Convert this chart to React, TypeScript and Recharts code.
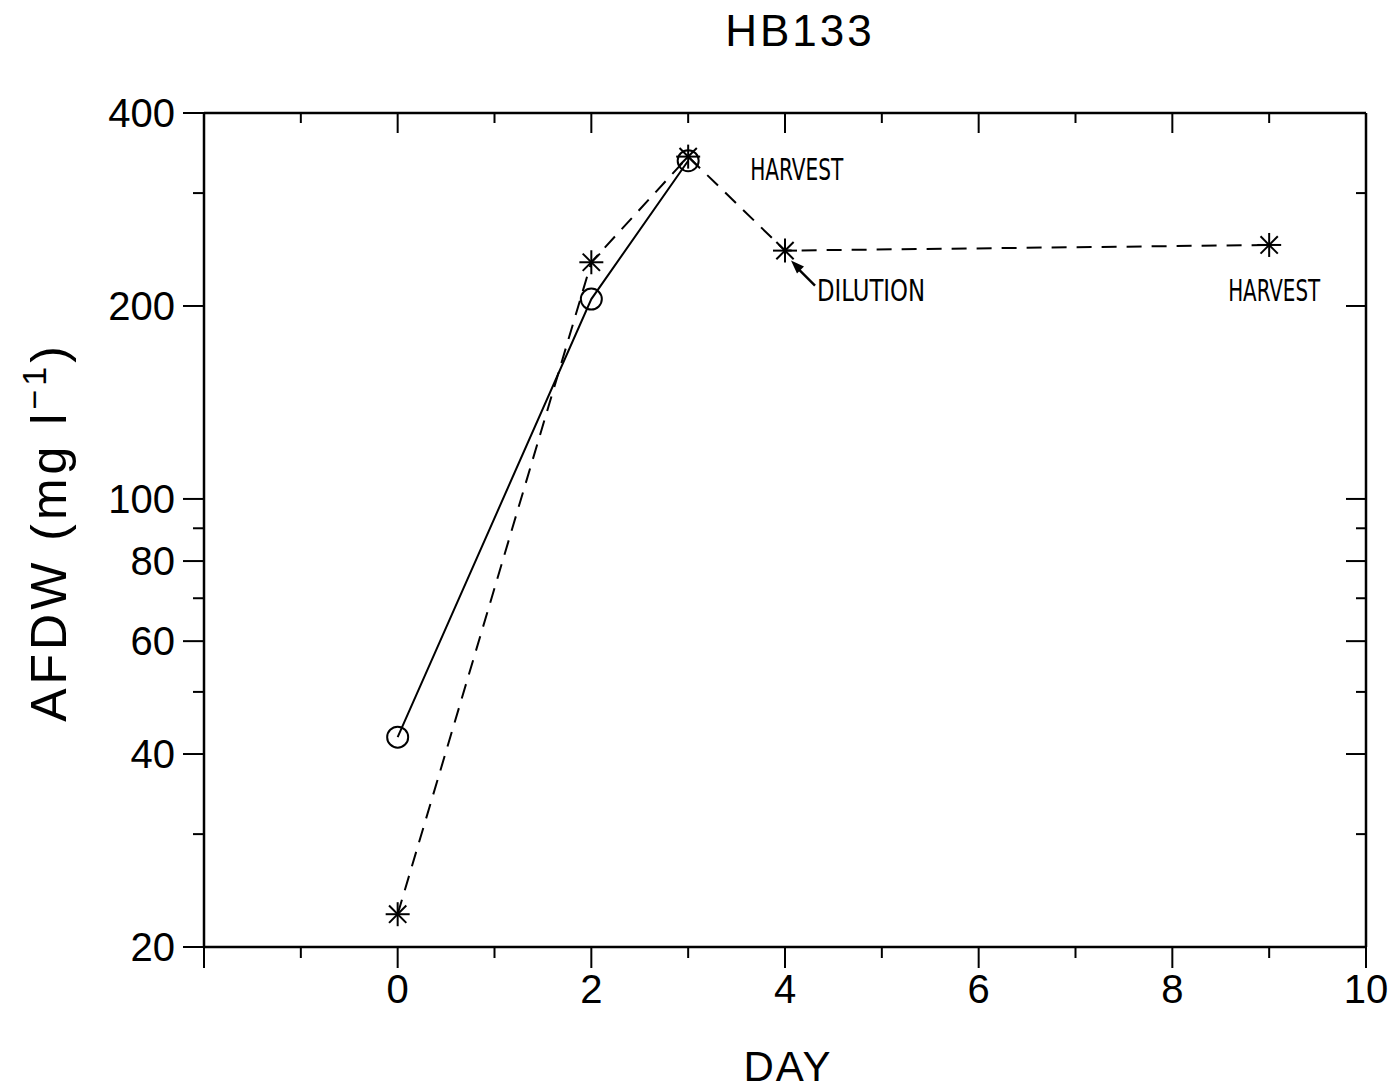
import React from "react";
import { LineChart, Line, XAxis, YAxis, ReferenceDot } from "recharts";

const circleDays = [0, 2, 3];
const circleAfdw = [42.5, 205, 337];
const starDays = [0, 2, 3, 4, 9];
const starAfdw = [22.5, 234, 342, 244, 249];

const xTicks = [-2, -1, 0, 1, 2, 3, 4, 5, 6, 7, 8, 9, 10];
const xLabels = [0, 2, 4, 6, 8, 10];
const xMajor = [-2, 0, 2, 4, 6, 8, 10];
const yTicks = [20, 30, 40, 50, 60, 70, 80, 90, 100, 200, 300, 400];
const yLabels = [20, 40, 60, 80, 100, 200, 400];

const annotations = [
  { day: 3, afdw: 342, text: "HARVEST", dx: 62, dy: 23, len: 93, arrow: false },
  { day: 4, afdw: 244, text: "DILUTION", dx: 32, dy: 50, len: 108, arrow: true },
  { day: 9, afdw: 249, text: "HARVEST", dx: -41, dy: 56, len: 92, arrow: false },
];

const circleData = circleDays.map((d, i) => ({ day: d, afdw: circleAfdw[i] }));
const starData = starDays.map((d, i) => ({ day: d, afdw: starAfdw[i] }));

const FONT = "'Liberation Sans', Arial, sans-serif";
const NARROW = "'Liberation Sans Narrow', 'DejaVu Sans Condensed', 'Liberation Sans', sans-serif";

const BottomTick = (p: any) => {
  const v = p.payload.value;
  const major = xMajor.includes(v);
  return (
    <g>
      <line x1={p.x} y1={p.y} x2={p.x} y2={p.y + (major ? 21 : 11)} stroke="#000" strokeWidth={2} />
      {xLabels.includes(v) && (
        <text x={p.x} y={p.y + 56} textAnchor="middle" fontSize={40} fontFamily={FONT} fill="#000">
          {v}
        </text>
      )}
    </g>
  );
};

const TopTick = (p: any) => {
  const v = p.payload.value;
  const major = xMajor.includes(v);
  if (v === -2 || v === 10) return <g />;
  return <line x1={p.x} y1={p.y} x2={p.x} y2={p.y + (major ? 20 : 10)} stroke="#000" strokeWidth={2} />;
};

const LeftTick = (p: any) => {
  const v = p.payload.value;
  const major = yLabels.includes(v);
  return (
    <g>
      <line x1={p.x - (major ? 21 : 11)} y1={p.y} x2={p.x} y2={p.y} stroke="#000" strokeWidth={2} />
      {major && (
        <text x={p.x - 29} y={p.y + 14} textAnchor="end" fontSize={40} fontFamily={FONT} fill="#000">
          {v}
        </text>
      )}
    </g>
  );
};

const RightTick = (p: any) => {
  const v = p.payload.value;
  const major = yLabels.includes(v);
  if (v === 20 || v === 400) return <g />;
  return <line x1={p.x - (major ? 20 : 10)} y1={p.y} x2={p.x} y2={p.y} stroke="#000" strokeWidth={2} />;
};

const CircleDot = (p: any) => (
  <circle key={`c-${p.index}`} cx={p.cx} cy={p.cy} r={10.5} fill="none" stroke="#000" strokeWidth={2} />
);

const StarDot = (p: any) => {
  const r = 12;
  const d = r * 0.72;
  return (
    <g key={`s-${p.index}`} stroke="#000" strokeWidth={2}>
      <line x1={p.cx} y1={p.cy - r} x2={p.cx} y2={p.cy + r} />
      <line x1={p.cx - r} y1={p.cy} x2={p.cx + r} y2={p.cy} />
      <line x1={p.cx - d} y1={p.cy - d} x2={p.cx + d} y2={p.cy + d} />
      <line x1={p.cx - d} y1={p.cy + d} x2={p.cx + d} y2={p.cy - d} />
    </g>
  );
};

export default function App() {
  return (
    <div style={{ position: "absolute", left: 0, top: 0, width: 1399, height: 1089, background: "#fff" }}>
      <LineChart
        width={1399}
        height={1089}
        margin={{ top: 13, right: 13, bottom: 12, left: 4 }}
      >
        <XAxis
          xAxisId="b"
          dataKey="day"
          type="number"
          domain={[-2, 10]}
          ticks={xTicks}
          allowDataOverflow
          height={130}
          tickSize={0}
          tickMargin={0}
          tickLine={false}
          axisLine={{ stroke: "#000", strokeWidth: 2.5 }}
          tick={<BottomTick />}
          interval={0}
        />
        <XAxis
          xAxisId="t"
          orientation="top"
          dataKey="day"
          type="number"
          domain={[-2, 10]}
          ticks={xTicks}
          allowDataOverflow
          height={100}
          tickSize={0}
          tickMargin={0}
          tickLine={false}
          axisLine={{ stroke: "#000", strokeWidth: 2.5 }}
          tick={<TopTick />}
          interval={0}
        />
        <YAxis
          yAxisId="l"
          scale="log"
          type="number"
          domain={[20, 400]}
          ticks={yTicks}
          allowDataOverflow
          width={200}
          tickSize={0}
          tickMargin={0}
          tickLine={false}
          axisLine={{ stroke: "#000", strokeWidth: 2.5 }}
          tick={<LeftTick />}
          interval={0}
        />
        <YAxis
          yAxisId="r"
          orientation="right"
          scale="log"
          type="number"
          domain={[20, 400]}
          ticks={yTicks}
          allowDataOverflow
          width={20}
          tickSize={0}
          tickMargin={0}
          tickLine={false}
          axisLine={{ stroke: "#000", strokeWidth: 2.5 }}
          tick={<RightTick />}
          interval={0}
        />
        <Line
          xAxisId="b"
          yAxisId="l"
          data={circleData}
          dataKey="afdw"
          stroke="#000"
          strokeWidth={2}
          dot={CircleDot}
          activeDot={false}
          isAnimationActive={false}
        />
        <Line
          xAxisId="b"
          yAxisId="l"
          data={starData}
          dataKey="afdw"
          stroke="#000"
          strokeWidth={2}
          strokeDasharray="15 10"
          dot={StarDot}
          activeDot={false}
          isAnimationActive={false}
        />
        {annotations.map((a, i) => (
          <ReferenceDot
            key={`a-${i}`}
            xAxisId="b"
            yAxisId="l"
            x={a.day}
            y={a.afdw}
            r={0}
            shape={(p: any) => (
              <g>
                <text
                  x={p.cx + a.dx}
                  y={p.cy + a.dy}
                  fontSize={30}
                  fontFamily={NARROW}
                  textLength={a.len}
                  lengthAdjust="spacingAndGlyphs"
                  fill="#000"
                >
                  {a.text}
                </text>
                {a.arrow && (
                  <g>
                    <line x1={p.cx + 30} y1={p.cy + 35} x2={p.cx + 12} y2={p.cy + 17} stroke="#000" strokeWidth={2.5} />
                    <polygon
                      points={`${p.cx + 6},${p.cy + 10} ${p.cx + 19},${p.cy + 16} ${p.cx + 12},${p.cy + 23}`}
                      fill="#000"
                    />
                  </g>
                )}
              </g>
            )}
          />
        ))}
      </LineChart>
      <svg
        width={1399}
        height={1089}
        style={{ position: "absolute", left: 0, top: 0, pointerEvents: "none" }}
      >
        <text x={800} y={46} textAnchor="middle" fontSize={44} letterSpacing={3} fontFamily={FONT} fill="#000">
          HB133
        </text>
        <text x={788} y={1081} textAnchor="middle" fontSize={42} letterSpacing={2} fontFamily={FONT} fill="#000">
          DAY
        </text>
        <text
          transform="translate(66,532) rotate(-90)"
          textAnchor="middle"
          fontSize={50}
          letterSpacing={4}
          fontFamily={FONT}
          fill="#000"
        >
          AFDW (mg l
          <tspan fontSize={34} dy={-20}>{"\u22121"}</tspan>
          <tspan dy={20}>)</tspan>
        </text>
      </svg>
    </div>
  );
}
